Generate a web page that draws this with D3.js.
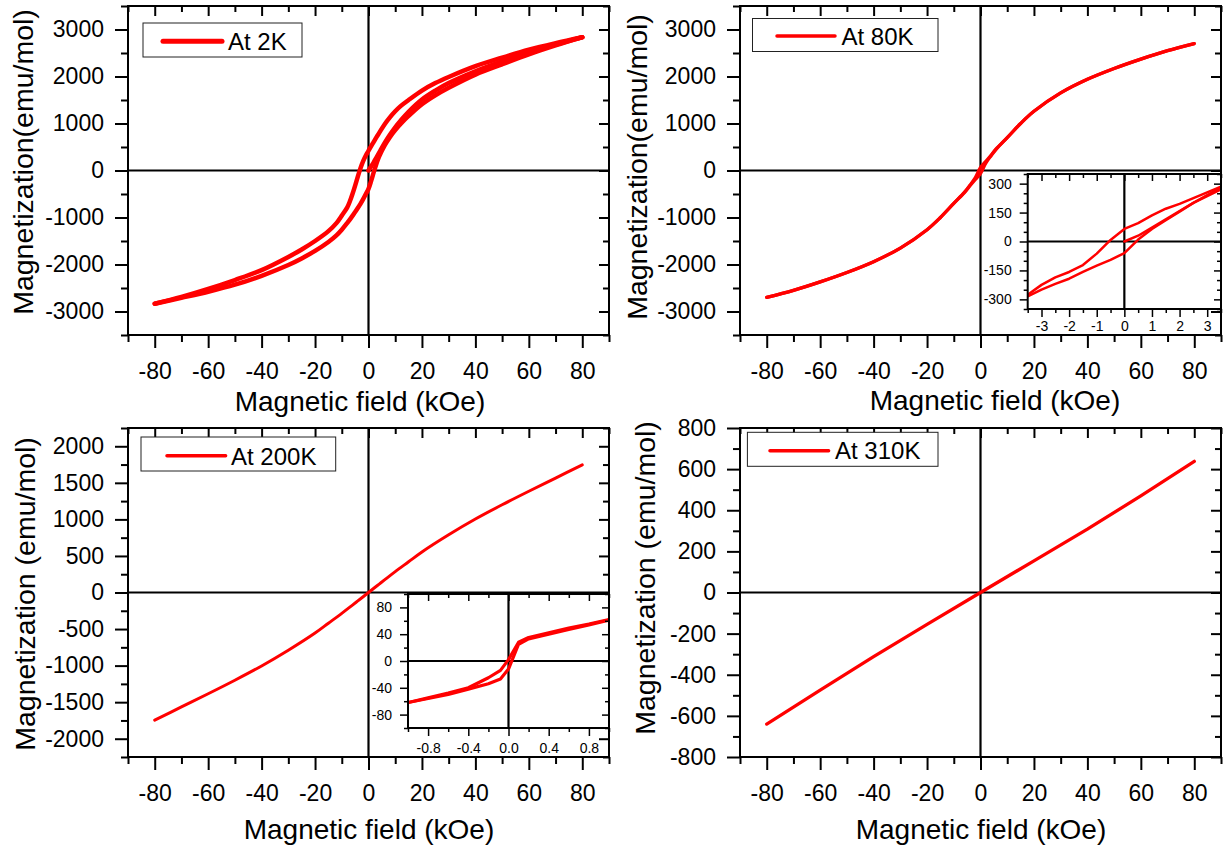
<!DOCTYPE html>
<html>
<head>
<meta charset="utf-8">
<script src="https://cdn.jsdelivr.net/npm/d3@7"></script>
<style>
  body { margin: 0; background: #fff; }
  svg text { font-family: "Liberation Sans", Arial, sans-serif; fill: #000; }
</style>
</head>
<body>
<script>
// ---- data ----
// 2K loop, kOe / emu/mol
const field2K = [-80, -70, -60, -50, -40, -30, -25, -20, -15, -12, -10, -8, -7, -6, -5, -4, -3, -2, -1, 0, 1, 2, 3, 4, 6, 8, 10, 12, 15, 20, 25, 30, 40, 50, 60, 70, 80];
const down2K = [-2836, -2690, -2520, -2330, -2120, -1840, -1680, -1500, -1290, -1120, -960, -790, -660, -500, -320, -130, 50, 200, 320, 420, 520, 615, 710, 800, 980, 1130, 1260, 1370, 1500, 1700, 1860, 1990, 2220, 2400, 2570, 2710, 2836];
const up2K = [-2836, -2710, -2580, -2430, -2240, -2010, -1870, -1710, -1520, -1380, -1260, -1120, -1045, -965, -885, -800, -710, -610, -500, -390, -220, -30, 150, 300, 530, 710, 860, 990, 1160, 1410, 1600, 1760, 2040, 2260, 2470, 2660, 2836];
const virginField2K = [0, 1, 2, 3, 4, 6, 8, 10, 12, 15, 20, 25, 30, 40, 50, 60, 70, 80];
const virgin2K = [0, 90, 180, 280, 380, 580, 760, 920, 1060, 1250, 1510, 1700, 1860, 2110, 2320, 2510, 2680, 2836];

// 80K loop
const field = [-80, -70, -60, -50, -40, -30, -20, -15, -10, -6, -4, -2, 0, 2, 4, 6, 10, 15, 20, 30, 40, 50, 60, 70, 80];
const down80K = [-2700, -2550, -2370, -2170, -1940, -1650, -1260, -1000, -700, -460, -315, -158, 65, 195, 330, 470, 700, 1000, 1260, 1650, 1940, 2170, 2370, 2550, 2700];
const up80K = [-2700, -2550, -2370, -2170, -1940, -1650, -1260, -1000, -700, -470, -330, -195, -65, 158, 315, 460, 700, 1000, 1260, 1650, 1940, 2170, 2370, 2550, 2700];
// 80K inset (low field)
const insetField80K = [-3.5, -3, -2.5, -2, -1.5, -1, -0.5, 0, 0.5, 1, 1.5, 2, 2.5, 3, 3.5];
const insetDown80K = [-276, -225, -186, -158, -122, -63, 8, 65, 95, 135, 170, 195, 225, 255, 285];
const insetUp80K = [-285, -250, -220, -193, -158, -125, -95, -60, 10, 65, 110, 155, 200, 235, 270];
const insetVirginField80K = [0, 0.5, 1, 1.5, 2, 2.5, 3, 3.5];
const insetVirgin80K = [0, 30, 72, 115, 158, 200, 240, 278];

// 200K
const field200K = [-80, -70, -60, -50, -40, -30, -20, -15, -10, -6, -4, -2, 0, 2, 4, 6, 10, 15, 20, 30, 40, 50, 60, 70, 80];
const mag200K = [-1745, -1565, -1385, -1200, -1005, -790, -555, -420, -285, -172, -115, -58, 0, 58, 115, 172, 285, 420, 555, 790, 1005, 1200, 1385, 1565, 1745];
// 200K inset (low field)
const insetField200K = [-1, -0.8, -0.6, -0.4, -0.2, -0.08, 0, 0.1, 0.2, 0.4, 0.6, 0.8, 1];
const insetDown200K = [-62, -55, -48, -40, -25, -14, 2, 28, 35, 42, 49, 55, 62];
const insetUp200K = [-62, -56, -50, -42, -34, -27, -12, 25, 33, 40, 47, 54, 61];

// 310K
const field310K = [-80, -60, -40, -20, 0, 20, 40, 60, 80];
const mag310K = [-640, -475, -312, -155, 0, 154, 308, 470, 638];

// ---- tick values ----
const fieldTicks = [-80, -60, -40, -20, 0, 20, 40, 60, 80];
const fieldMinor = [-90, -70, -50, -30, -10, 10, 30, 50, 70, 90];
const magTicksLow = [-3000, -2000, -1000, 0, 1000, 2000, 3000];
const magMinorLow = [-3500, -2500, -1500, -500, 500, 1500, 2500, 3500];
const magTicks200 = [-2000, -1500, -1000, -500, 0, 500, 1000, 1500, 2000];
const magMinor200 = [-2250, -1750, -1250, -750, -250, 250, 750, 1250, 1750, 2250];
const magTicks310 = [-800, -600, -400, -200, 0, 200, 400, 600, 800];
const magMinor310 = [-700, -500, -300, -100, 100, 300, 500, 700];
const inset80XTicks = [-3, -2, -1, 0, 1, 2, 3];
const inset80XMinor = [-3.5, -2.5, -1.5, -0.5, 0.5, 1.5, 2.5, 3.5];
const inset80YTicks = [-300, -150, 0, 150, 300];
const inset80YMinor = [-350, -250, -200, -100, -50, 50, 100, 200, 250, 350];
const inset200XTicks = [-0.8, -0.4, 0, 0.4, 0.8];
const inset200XMinor = [-1, -0.6, -0.2, 0.2, 0.6, 1];
const inset200YTicks = [-80, -40, 0, 40, 80];
const inset200YMinor = [-100, -60, -20, 20, 60, 100];

const RED = "#ff0000";

const svg = d3.select("body").append("svg")
    .attr("width", 1224)
    .attr("height", 848);

const zip = (xs, ys) => xs.map((v, i) => [v, ys[i]]);

// white background (insets only) and the two zero lines
function drawBox(g, x, y, o) {
    const [x0, x1] = x.range();
    const [y1, y0] = y.range();
    if (o.fill) {
        g.append("rect").attr("x", x0).attr("y", y0)
            .attr("width", x1 - x0).attr("height", y1 - y0).attr("fill", "#fff");
    }
    g.append("line").attr("x1", x0).attr("x2", x1).attr("y1", y(0)).attr("y2", y(0))
        .attr("stroke", "#000").attr("stroke-width", 2.2);
    g.append("line").attr("x1", x(0)).attr("x2", x(0)).attr("y1", y0).attr("y2", y1)
        .attr("stroke", "#000").attr("stroke-width", 2.2);
}

// ticks on all four sides (out on left/bottom, in on top/right) + frame
function drawAxes(g, x, y, o) {
    const [x0, x1] = x.range();
    const [y1, y0] = y.range();
    const clean = a => a.call(s => s.select(".domain").remove())
        .call(s => s.selectAll("line").attr("stroke-width", o.tickWidth))
        .attr("font-size", o.fontSize)
        .attr("font-family", '"Liberation Sans", Arial, sans-serif');

    g.append("g").attr("transform", `translate(0,${y1})`)
        .call(d3.axisBottom(x).tickValues(o.xTicks).tickSize(o.tick).tickPadding(o.xPad).tickFormat(o.xFmt))
        .call(clean);
    g.append("g").attr("transform", `translate(0,${y1})`)
        .call(d3.axisBottom(x).tickValues(o.xMinor).tickSize(o.minor).tickFormat(""))
        .call(clean);
    g.append("g").attr("transform", `translate(0,${y0})`)
        .call(d3.axisTop(x).tickValues(o.xTicks).tickSize(-o.tickIn).tickFormat(""))
        .call(clean);
    g.append("g").attr("transform", `translate(0,${y0})`)
        .call(d3.axisTop(x).tickValues(o.xMinor).tickSize(-o.minorIn).tickFormat(""))
        .call(clean);
    g.append("g").attr("transform", `translate(${x0},0)`)
        .call(d3.axisLeft(y).tickValues(o.yTicks).tickSize(o.tick).tickPadding(o.yPad).tickFormat(o.yFmt))
        .call(clean);
    g.append("g").attr("transform", `translate(${x0},0)`)
        .call(d3.axisLeft(y).tickValues(o.yMinor).tickSize(o.minor).tickFormat(""))
        .call(clean);
    g.append("g").attr("transform", `translate(${x1},0)`)
        .call(d3.axisRight(y).tickValues(o.yTicks).tickSize(-o.tickIn).tickFormat(""))
        .call(clean);
    g.append("g").attr("transform", `translate(${x1},0)`)
        .call(d3.axisRight(y).tickValues(o.yMinor).tickSize(-o.minorIn).tickFormat(""))
        .call(clean);

    g.append("rect").attr("x", x0).attr("y", y0)
        .attr("width", x1 - x0).attr("height", y1 - y0)
        .attr("fill", "none").attr("stroke", "#000").attr("stroke-width", 2);
}

function drawCurves(g, x, y, curves, curveType) {
    const line = d3.line().x(d => x(d[0])).y(d => y(d[1])).curve(curveType);
    curves.forEach(c => {
        g.append("path")
            .attr("d", line(c.pts))
            .attr("fill", "none")
            .attr("stroke", RED)
            .attr("stroke-width", c.width)
            .attr("stroke-linejoin", "round")
            .attr("stroke-linecap", "round");
    });
}

const intFmt = d => String(d);
const oneDec = d => d.toFixed(1);

function panel(p) {
    const g = svg.append("g");
    const x = d3.scaleLinear().domain([-90, 90]).range([p.left, p.right]);
    const y = d3.scaleLinear().domain(p.yDomain).range([p.bottom, p.top]);

    drawBox(g, x, y, {});
    drawCurves(g, x, y, p.curves, p.curveType);
    drawAxes(g, x, y, {
        xTicks: fieldTicks, xMinor: fieldMinor, yTicks: p.yTicks, yMinor: p.yMinor,
        tick: 13, minor: 7, tickIn: 10, minorIn: 6, xPad: 15, yPad: 11,
        tickWidth: 2, fontSize: 23, xFmt: intFmt, yFmt: intFmt
    });

    // axis titles
    g.append("text").attr("x", p.xTitle[0]).attr("y", p.xTitle[1])
        .attr("text-anchor", "middle").attr("font-size", 28)
        .text("Magnetic field (kOe)");
    g.append("text")
        .attr("transform", `translate(${p.yTitle[0]},${p.yTitle[1]}) rotate(-90)`)
        .attr("text-anchor", "middle").attr("font-size", 28.5)
        .text(p.yLabel);

    // legend
    const L = p.legend;
    g.append("rect").attr("x", L.box[0]).attr("y", L.box[1])
        .attr("width", L.box[2] - L.box[0]).attr("height", L.box[3] - L.box[1])
        .attr("fill", "#fff").attr("stroke", "#222").attr("stroke-width", 1);
    g.append("line").attr("x1", L.line[0]).attr("x2", L.line[1])
        .attr("y1", L.line[2]).attr("y2", L.line[2])
        .attr("stroke", RED).attr("stroke-width", L.width).attr("stroke-linecap", "round");
    g.append("text").attr("x", L.text[0]).attr("y", L.text[1])
        .attr("font-size", 24).text(p.label);

    if (p.inset) {
        const q = p.inset;
        const gi = svg.append("g");
        const xi = d3.scaleLinear().domain(q.xDomain).range([q.left, q.right]);
        const yi = d3.scaleLinear().domain(q.yDomain).range([q.bottom, q.top]);
        const clipId = "clip" + p.label.replace(/\W/g, "");
        gi.append("clipPath").attr("id", clipId).append("rect")
            .attr("x", q.left).attr("y", q.top)
            .attr("width", q.right - q.left).attr("height", q.bottom - q.top);
        drawBox(gi, xi, yi, { fill: true });
        const gc = gi.append("g").attr("clip-path", `url(#${clipId})`);
        drawCurves(gc, xi, yi, q.curves, d3.curveLinear);
        drawAxes(gi, xi, yi, {
            xTicks: q.xTicks, xMinor: q.xMinor, yTicks: q.yTicks, yMinor: q.yMinor,
            tick: 8, minor: 4, tickIn: 7, minorIn: 4, xPad: q.xPad, yPad: 8,
            tickWidth: 1.5, fontSize: 14, xFmt: q.xFmt, yFmt: intFmt
        });
    }
}

panel({
    label: "At 2K",
    left: 128, right: 609, top: 6, bottom: 335,
    yDomain: [-3500, 3500], yTicks: magTicksLow, yMinor: magMinorLow,
    yLabel: "Magnetization(emu/mol)",
    xTitle: [360, 411], yTitle: [33, 162],
    curveType: d3.curveCatmullRom,
    curves: [
        { pts: zip(virginField2K, virgin2K), width: 4.5 },
        { pts: zip(field2K, down2K), width: 4.5 },
        { pts: zip(field2K, up2K), width: 4.5 }
    ],
    legend: { box: [143, 23, 302, 57], line: [163, 222, 41.3], width: 5, text: [228, 50] }
});

panel({
    label: "At 80K",
    left: 740, right: 1221, top: 6, bottom: 335,
    yDomain: [-3500, 3500], yTicks: magTicksLow, yMinor: magMinorLow,
    yLabel: "Magnetization(emu/mol)",
    xTitle: [995, 410], yTitle: [647, 167],
    curveType: d3.curveCatmullRom,
    curves: [
        { pts: zip(field, down80K), width: 3.2 },
        { pts: zip(field, up80K), width: 3.2 }
    ],
    legend: { box: [752.5, 18.5, 938, 51.5], line: [777, 835, 36], width: 3.5, text: [841.5, 45] },
    inset: {
        left: 1027.7, right: 1221, top: 174, bottom: 309,
        xDomain: [-3.5, 3.5], yDomain: [-350, 350],
        xTicks: inset80XTicks, xMinor: inset80XMinor,
        yTicks: inset80YTicks, yMinor: inset80YMinor,
        xPad: 4, xFmt: intFmt,
        curves: [
            { pts: zip(insetField80K, insetDown80K), width: 2.5 },
            { pts: zip(insetField80K, insetUp80K), width: 2.5 },
            { pts: zip(insetVirginField80K, insetVirgin80K), width: 2.5 }
        ]
    }
});

panel({
    label: "At 200K",
    left: 128, right: 609, top: 428, bottom: 757,
    yDomain: [-2250, 2250], yTicks: magTicks200, yMinor: magMinor200,
    yLabel: "Magnetization (emu/mol)",
    xTitle: [369, 839], yTitle: [35, 594],
    curveType: d3.curveCatmullRom,
    curves: [
        { pts: zip(field200K, mag200K), width: 3 }
    ],
    legend: { box: [141, 437, 335.7, 471], line: [167, 225.6, 455.7], width: 3.5, text: [231, 464.7] },
    inset: {
        left: 408, right: 609, top: 594, bottom: 728,
        xDomain: [-1, 1], yDomain: [-100, 100],
        xTicks: inset200XTicks, xMinor: inset200XMinor,
        yTicks: inset200YTicks, yMinor: inset200YMinor,
        xPad: 7, xFmt: oneDec,
        curves: [
            { pts: zip(insetField200K, insetDown200K), width: 3.2 },
            { pts: zip(insetField200K, insetUp200K), width: 3.2 }
        ]
    }
});

panel({
    label: "At 310K",
    left: 740, right: 1221, top: 428, bottom: 757,
    yDomain: [-800, 800], yTicks: magTicks310, yMinor: magMinor310,
    yLabel: "Magnetization (emu/mol)",
    xTitle: [981, 839], yTitle: [655, 578],
    curveType: d3.curveLinear,
    curves: [
        { pts: zip(field310K, mag310K), width: 3.3 }
    ],
    legend: { box: [747.4, 432.3, 938, 466.3], line: [770, 828.6, 450.7], width: 3.5, text: [835, 459] }
});
</script>
</body>
</html>
